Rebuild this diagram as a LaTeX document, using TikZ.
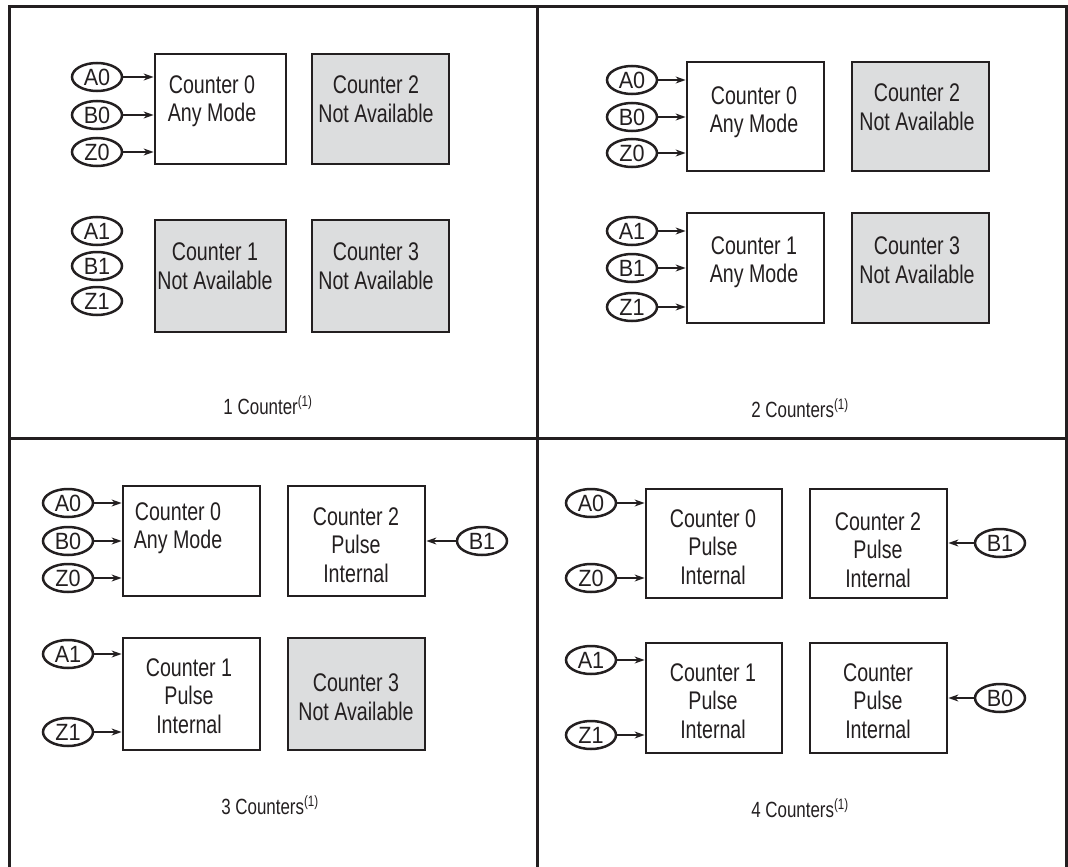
\documentclass[tikz,border=0pt]{standalone}
\usepackage{fontspec}
\setmainfont{Liberation Sans}[FakeStretch=0.77]
\newfontfamily\sigfont{Liberation Sans}[FakeStretch=0.92]
\usetikzlibrary{shapes.geometric,arrows.meta}
\definecolor{inkline}{RGB}{35,31,32}
\definecolor{unavail}{RGB}{220,221,222}
\tikzset{
  frameline/.style={draw=inkline,line width=3pt},
  cbox/.style={draw=inkline,line width=2.8pt,fill=white,inner sep=0pt},
  nabox/.style={cbox,fill=unavail},
  ctext/.style={font=\fontsize{25.5}{28.5}\selectfont,align=center,inner sep=0pt,text=inkline},
  sig/.style={ellipse,draw=inkline,line width=2.5pt,minimum width=50pt,minimum height=28pt,inner sep=0pt,
    label={[font=\sigfont\fontsize{23.5}{24}\selectfont,text=inkline,inner sep=0pt]center:#1}},
  feed/.style={draw=inkline,line width=1.3pt,-{Stealth[length=10pt,width=7pt]}},
  captext/.style={font=\fontsize{22}{24}\selectfont,text=inkline,inner sep=0pt},
}
\newcommand{\fnref}{\textsuperscript{\fontsize{15}{15}\selectfont(1)}}
\begin{document}
\begin{tikzpicture}[x=1pt,y=-1pt]
\useasboundingbox (0,0) rectangle (1068,867);

% outer frame and quadrant dividers
\draw[frameline] (9,872) -- (9,7) -- (1066,7) -- (1066,872);
\draw[frameline] (537,7) -- (537,872);
\draw[frameline] (9,438) -- (1066,438);

% ---- 1 counter ----
\node[cbox,minimum width=131pt,minimum height=110pt] (p1c0) at (220.5,109) {};
\node[nabox,minimum width=137pt,minimum height=110pt] (p1c2) at (380.5,109) {};
\node[nabox,minimum width=131pt,minimum height=112pt] (p1c1) at (220.5,276) {};
\node[nabox,minimum width=137pt,minimum height=112pt] (p1c3) at (380.5,276) {};
\node[ctext] at (212,101) {Counter 0\\Any Mode};
\node[ctext] at (376,99) {Counter 2\\Not Available};
\node[ctext] at (215,266) {Counter 1\\Not Available};
\node[ctext] at (376,266) {Counter 3\\Not Available};
\node[sig=A0] (p1a0) at (97,77) {};
\node[sig=B0] (p1b0) at (97,115) {};
\node[sig=Z0] (p1z0) at (97,152) {};
\node[sig=A1] (p1a1) at (97,231) {};
\node[sig=B1] (p1b1) at (97,266) {};
\node[sig=Z1] (p1z1) at (97,301) {};
\draw[feed] (p1a0.east) -- (p1a0.east -| p1c0.west);
\draw[feed] (p1b0.east) -- (p1b0.east -| p1c0.west);
\draw[feed] (p1z0.east) -- (p1z0.east -| p1c0.west);
\node[captext] (p1cap) at (268,405) {1 Counter\fnref};

% ---- 2 counters ----
\node[cbox,minimum width=137pt,minimum height=109pt] (p2c0) at (755.5,116.5) {};
\node[nabox,minimum width=137pt,minimum height=109pt] (p2c2) at (920.5,116.5) {};
\node[cbox,minimum width=137pt,minimum height=110pt] (p2c1) at (755.5,268) {};
\node[nabox,minimum width=137pt,minimum height=110pt] (p2c3) at (920.5,268) {};
\node[ctext] at (754,112) {Counter 0\\Any Mode};
\node[ctext] at (917,107) {Counter 2\\Not Available};
\node[ctext] at (754,262) {Counter 1\\Any Mode};
\node[ctext] at (917,260) {Counter 3\\Not Available};
\node[sig=A0] (p2a0) at (632,80) {};
\node[sig=B0] (p2b0) at (632,117) {};
\node[sig=Z0] (p2z0) at (632,153) {};
\node[sig=A1] (p2a1) at (632,231) {};
\node[sig=B1] (p2b1) at (632,268) {};
\node[sig=Z1] (p2z1) at (632,307) {};
\draw[feed] (p2a0.east) -- (p2a0.east -| p2c0.west);
\draw[feed] (p2b0.east) -- (p2b0.east -| p2c0.west);
\draw[feed] (p2z0.east) -- (p2z0.east -| p2c0.west);
\draw[feed] (p2a1.east) -- (p2a1.east -| p2c1.west);
\draw[feed] (p2b1.east) -- (p2b1.east -| p2c1.west);
\draw[feed] (p2z1.east) -- (p2z1.east -| p2c1.west);
\node[captext] (p2cap) at (800,408) {2 Counters\fnref};

% ---- 3 counters ----
\node[cbox,minimum width=137pt,minimum height=110pt] (p3c0) at (191.5,541) {};
\node[cbox,minimum width=137pt,minimum height=110pt] (p3c2) at (356.5,541) {};
\node[cbox,minimum width=137pt,minimum height=112pt] (p3c1) at (191.5,694) {};
\node[nabox,minimum width=137pt,minimum height=112pt] (p3c3) at (356.5,694) {};
\node[ctext] at (178,528) {Counter 0\\Any Mode};
\node[ctext] at (356,545) {Counter 2\\Pulse\\Internal};
\node[ctext] at (189,696) {Counter 1\\Pulse\\Internal};
\node[ctext] at (356,697) {Counter 3\\Not Available};
\node[sig=A0] (p3a0) at (68,503) {};
\node[sig=B0] (p3b0) at (68,541) {};
\node[sig=Z0] (p3z0) at (68,578) {};
\node[sig=A1] (p3a1) at (68,654) {};
\node[sig=Z1] (p3z1) at (68,732) {};
\node[sig=B1] (p3b1) at (482,541) {};
\draw[feed] (p3a0.east) -- (p3a0.east -| p3c0.west);
\draw[feed] (p3b0.east) -- (p3b0.east -| p3c0.west);
\draw[feed] (p3z0.east) -- (p3z0.east -| p3c0.west);
\draw[feed] (p3a1.east) -- (p3a1.east -| p3c1.west);
\draw[feed] (p3z1.east) -- (p3z1.east -| p3c1.west);
\draw[feed] (p3b1.west) -- (p3b1.west -| p3c2.east);
\node[captext] (p3cap) at (270,805) {3 Counters\fnref};

% ---- 4 counters ----
\node[cbox,minimum width=136pt,minimum height=109pt] (p4c0) at (714,543.5) {};
\node[cbox,minimum width=137pt,minimum height=109pt] (p4c2) at (878.5,543.5) {};
\node[cbox,minimum width=136pt,minimum height=110pt] (p4c1) at (714,698) {};
\node[cbox,minimum width=137pt,minimum height=110pt] (p4c3) at (878.5,698) {};
\node[ctext] at (713,547) {Counter 0\\Pulse\\Internal};
\node[ctext] at (878,550) {Counter 2\\Pulse\\Internal};
\node[ctext] at (713,701) {Counter 1\\Pulse\\Internal};
\node[ctext] at (878,701) {Counter\\Pulse\\Internal};
\node[sig=A0] (p4a0) at (591,503) {};
\node[sig=Z0] (p4z0) at (591,578) {};
\node[sig=A1] (p4a1) at (591,660) {};
\node[sig=Z1] (p4z1) at (591,735) {};
\node[sig=B1] (p4b1) at (1000,543) {};
\node[sig=B0] (p4b0) at (1000,698) {};
\draw[feed] (p4a0.east) -- (p4a0.east -| p4c0.west);
\draw[feed] (p4z0.east) -- (p4z0.east -| p4c0.west);
\draw[feed] (p4a1.east) -- (p4a1.east -| p4c1.west);
\draw[feed] (p4z1.east) -- (p4z1.east -| p4c1.west);
\draw[feed] (p4b1.west) -- (p4b1.west -| p4c2.east);
\draw[feed] (p4b0.west) -- (p4b0.west -| p4c3.east);
\node[captext] (p4cap) at (800,808) {4 Counters\fnref};
\end{tikzpicture}
\end{document}
